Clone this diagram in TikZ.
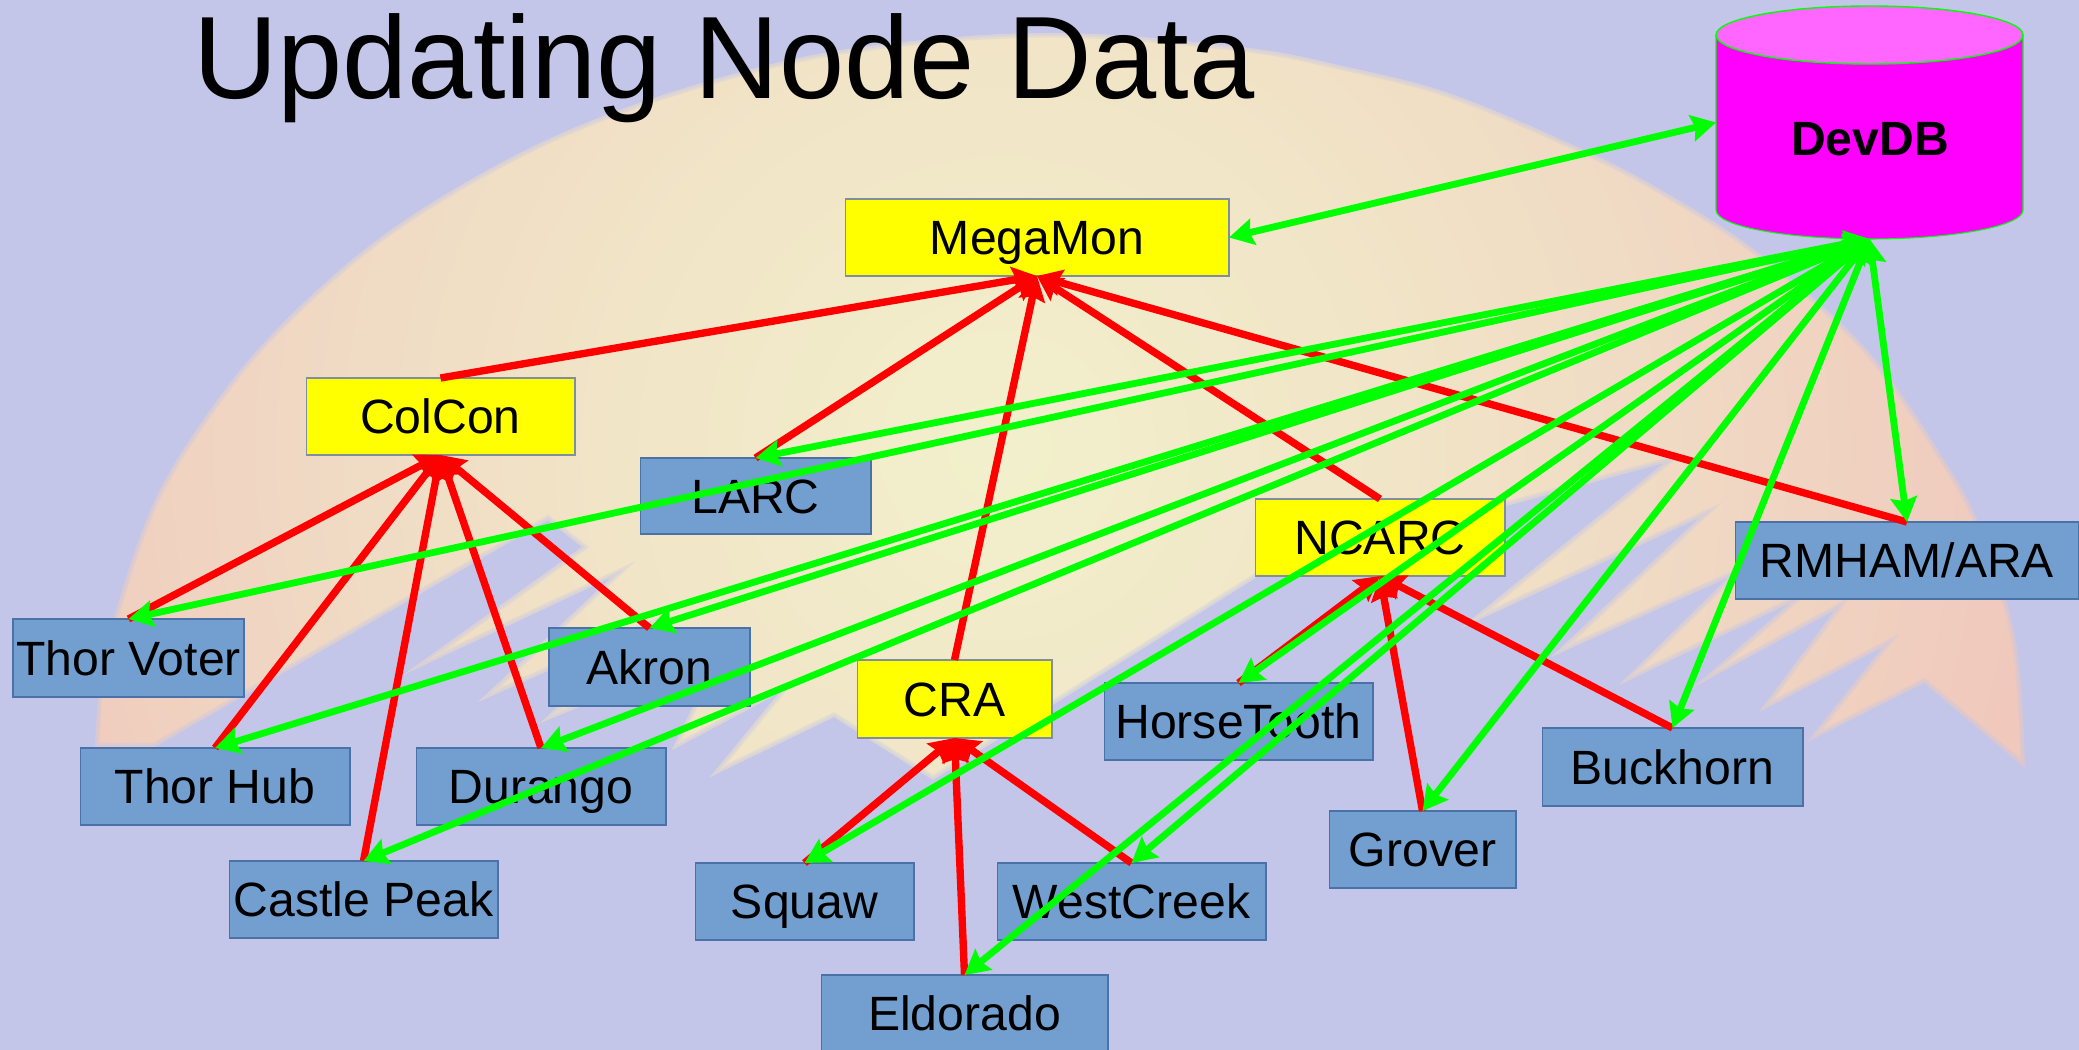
\documentclass[tikz,border=0pt]{standalone}
\usepackage{fontspec}
\setmainfont{Liberation Sans}
\usetikzlibrary{arrows.meta}
\definecolor{bgc}{HTML}{C3C6E8}
\definecolor{boxblue}{HTML}{729FCF}
\definecolor{boxedge}{HTML}{4A72A8}
\definecolor{boxyellow}{HTML}{FFFF00}
\definecolor{yelledge}{HTML}{7F8FA0}
\definecolor{sunA}{HTML}{F2F0CC}
\definecolor{sunB}{HTML}{F1E5C7}
\definecolor{sunC}{HTML}{F0DAC4}
\definecolor{sunD}{HTML}{F0C8BC}
\definecolor{linkgreen}{HTML}{00FF00}
\definecolor{linkred}{HTML}{FF0000}
\definecolor{dbbody}{HTML}{FF00FF}
\definecolor{dbtop}{HTML}{FF66FF}
\pgfdeclareradialshading{sunglow}{\pgfpointorigin}{color(0bp)=(sunA);color(7.3bp)=(sunB);color(12.9bp)=(sunC);color(20.2bp)=(sunD);color(50bp)=(sunD)}
\tikzset{
  basebox/.style={draw,line width=0.6pt,inner sep=0pt,outer sep=0pt,text=black,text height=19.6pt,text depth=0pt,font=\fontsize{27.4}{30}\selectfont},
  bluebox/.style={basebox,fill=boxblue,draw=boxedge},
  yellowbox/.style={basebox,fill=boxyellow,draw=yelledge},
  redlink/.style={draw=linkred,fill=linkred,line width=4.2pt,-{Stealth[length=14pt,width=15pt,inset=2pt]}},
  greenlink/.style={draw=linkgreen,fill=linkgreen,line width=3.9pt,{Stealth[length=14pt,width=15pt,inset=2pt]}-{Stealth[length=14pt,width=15pt,inset=2pt]}}
}
\def\sunpath{plot[smooth,tension=0.6] coordinates {(95,747)(100,680)(114,617)(156,498)(221,395)(290,316)(381,237)(488,170)(596,119)(730,75)(863,47)(1050,33)(1240,47)(1347,67)(1454,95)(1588,152)(1668,194)(1748,245)(1829,312)(1882,368)(1936,447)(1978,522)(2015,637)(2025,768)}
 -- (1924,683) -- (1807,742) -- (1883,647) -- (1759,712) -- (1835,610) -- (1694,687) -- (1790,603) -- (1619,685) -- (1729,577) -- (1551,657) -- (1699,518) -- (1461,628) -- (1664,463) -- (1265,572) -- (933,780) -- (834,717) -- (710,777) -- (779,693) -- (672,750) -- (720,650) -- (540,723) -- (640,630) -- (478,702) -- (612,577) -- (403,675) -- (582,547) -- (548,520) -- (155,747) -- cycle}
\begin{document}
\begin{tikzpicture}[x=0.02cm,y=-0.02cm]
\useasboundingbox (0,0) rectangle (2079,1050);
\fill[bgc] (0,0) rectangle (2079,1050);
% sun and mountains
\begin{scope}
\clip \sunpath;
\shade[shading=sunglow] (1000,450) circle (1300);
\draw[bgc,line width=5pt,opacity=0.3] \sunpath;
\draw[bgc,line width=2.5pt,opacity=0.3] \sunpath;
\end{scope}
% title
\node[anchor=base,inner sep=0pt,font=\fontsize{66.7}{70}\selectfont] (title) at (724,99) {Updating Node Data};
% database
\fill[dbbody] (1716,35) -- (1716,210) arc[start angle=180,end angle=0,x radius=153.5,y radius=29] -- (2023,35) -- cycle;
\draw[linkgreen,line width=0.6pt] (1716,35) -- (1716,210) arc[start angle=180,end angle=0,x radius=153.5,y radius=29] -- (2023,35);
\draw[linkgreen,line width=0.8pt,fill=dbtop] (1869.5,35) ellipse [x radius=153.5,y radius=29];
\node[inner sep=0pt,outer sep=0pt,minimum width=6.14cm,minimum height=4.66cm] (devdb) at (1869.5,122.5) {};
\node[inner sep=0pt,font=\bfseries\fontsize{27.4}{30}\selectfont] (devdblabel) at (1870,139) {DevDB};
% boxes
\node[yellowbox,minimum width=7.68cm,minimum height=1.54cm] (megamon) at (1037,237.5) {MegaMon};
\node[yellowbox,minimum width=5.38cm,minimum height=1.54cm] (colcon) at (440.5,416.5) {ColCon};
\node[yellowbox,minimum width=5.00cm,minimum height=1.54cm] (ncarc) at (1380,537.5) {NCARC};
\node[yellowbox,minimum width=3.90cm,minimum height=1.56cm] (cra) at (954.5,699) {CRA};
\node[bluebox,minimum width=4.62cm,minimum height=1.52cm] (larc) at (755.5,496) {LARC};
\node[bluebox,minimum width=6.88cm,minimum height=1.54cm] (rmham) at (1907,560.5) {RMHAM/ARA};
\node[bluebox,minimum width=4.62cm,minimum height=1.56cm] (thorvoter) at (128.5,658) {Thor Voter};
\node[bluebox,minimum width=5.40cm,minimum height=1.54cm] (thorhub) at (215,786.5) {Thor Hub};
\node[bluebox,minimum width=5.00cm,minimum height=1.54cm] (durango) at (541,786.5) {Durango};
\node[bluebox,minimum width=5.38cm,minimum height=1.54cm] (castle) at (363.5,899.5) {Castle Peak};
\node[bluebox,minimum width=4.02cm,minimum height=1.56cm] (akron) at (649.5,667) {Akron};
\node[bluebox,minimum width=4.38cm,minimum height=1.54cm] (squaw) at (804.5,901.5) {Squaw};
\node[bluebox,minimum width=5.38cm,minimum height=1.54cm] (westcreek) at (1131.5,901.5) {WestCreek};
\node[bluebox,minimum width=5.38cm,minimum height=1.54cm] (horsetooth) at (1238.5,721.5) {HorseTooth};
\node[bluebox,minimum width=3.74cm,minimum height=1.54cm] (grover) at (1422.5,849.5) {Grover};
\node[bluebox,minimum width=5.22cm,minimum height=1.56cm] (buckhorn) at (1672.5,767) {Buckhorn};
\node[bluebox,minimum width=5.74cm,minimum height=1.54cm] (eldorado) at (964.5,1013.5) {Eldorado};
% red links
\foreach \c/\p in {colcon/megamon,larc/megamon,cra/megamon,ncarc/megamon,rmham/megamon,
  thorvoter/colcon,thorhub/colcon,castle/colcon,durango/colcon,akron/colcon,
  squaw/cra,eldorado/cra,westcreek/cra,
  horsetooth/ncarc,grover/ncarc,buckhorn/ncarc}
  \draw[redlink] (\c.north) -- (\p.south);
% green links
\draw[greenlink] (megamon.east) -- (devdb.west);
\foreach \c in {thorvoter,thorhub,castle,durango,akron,larc,squaw,westcreek,eldorado,horsetooth,grover,buckhorn,rmham}
  \draw[greenlink] (devdb.south) -- (\c.north);
\end{tikzpicture}
\end{document}
